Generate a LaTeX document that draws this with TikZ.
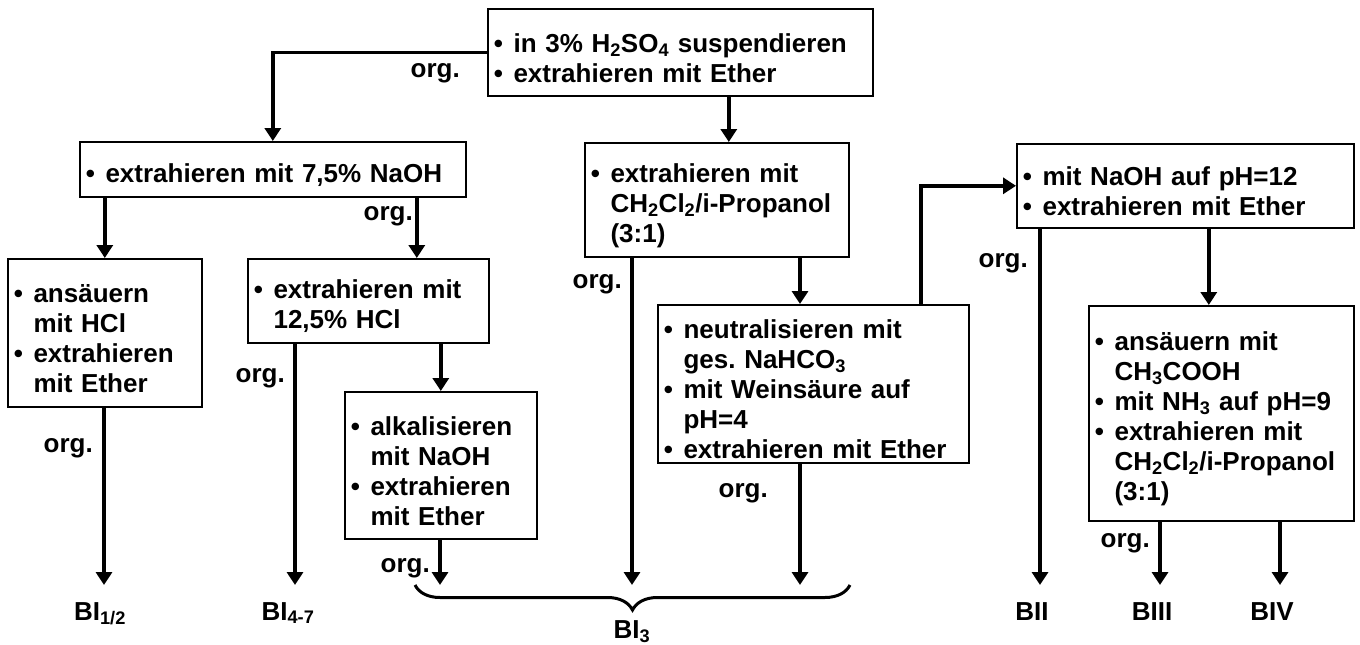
\documentclass[tikz,border=0pt]{standalone}
\usepackage{fontspec}
\setmainfont{Liberation Sans}
\usetikzlibrary{arrows.meta,decorations.pathreplacing}
\hyphenpenalty=10000
\exhyphenpenalty=10000
\frenchspacing
\newcommand{\itm}{\par\noindent\hangindent=0.76em\hangafter=1\makebox[0.76em][l]{\textbullet}}
\tikzset{
	box/.style={draw,line width=1.6pt,anchor=north west,inner xsep=6pt,inner ysep=0pt,align=left},
	arr/.style={line width=3.5pt,-{Triangle[length=13pt,width=16pt]}},
	lbl/.style={inner sep=0pt}
}
\begin{document}
\begin{tikzpicture}[x=1pt,y=-1pt,font=\fontsize{26}{30}\selectfont\bfseries]
	\useasboundingbox (0,0) rectangle (1360,645);
	\node[box,text width=373pt,minimum height=87pt] (top) at (487,8)
		{\itm in 3\% H\textsubscript{2}SO\textsubscript{4} suspendieren
		 \itm extrahieren mit Ether\par};
	\node[box,text width=374pt,minimum height=55pt] (naoh) at (79,141)
		{\itm extrahieren mit 7,5\% NaOH\par};
	\node[box,text width=182pt,minimum height=148pt] (ans) at (7,258)
		{\itm ansäuern\newline mit HCl
		 \itm extrahieren\newline mit Ether\par};
	\node[box,text width=229pt,minimum height=84pt] (hcl) at (247,258)
		{\itm extrahieren mit\newline 12,5\% HCl\par};
	\node[box,text width=180pt,minimum height=147pt] (alk) at (344,391)
		{\itm alkalisieren\newline mit NaOH
		 \itm extrahieren\newline mit Ether\par};
	\node[box,text width=252pt,minimum height=114pt] (mid) at (584,142)
		{\itm extrahieren mit\newline CH\textsubscript{2}Cl\textsubscript{2}/i-Propanol\newline (3:1)\par};
	\node[box,text width=299pt,minimum height=158pt] (neu) at (657,304)
		{\itm neutralisieren mit\newline ges. NaHCO\textsubscript{3}
		 \itm mit Weinsäure auf\newline pH=4
		 \itm extrahieren mit Ether\par};
	\node[box,text width=325pt,minimum height=84pt] (ph) at (1016,143)
		{\itm mit NaOH auf pH=12
		 \itm extrahieren mit Ether\par};
	\node[box,text width=253pt,minimum height=215pt] (acid) at (1088,305)
		{\itm ansäuern mit\newline CH\textsubscript{3}COOH
		 \itm mit NH\textsubscript{3} auf pH=9
		 \itm extrahieren mit\newline CH\textsubscript{2}Cl\textsubscript{2}/i-Propanol\newline (3:1)\par};

	\coordinate (e12) at (104,585);
	\coordinate (e47) at (295,585);
	\coordinate (e3a) at (440,585);
	\coordinate (e3b) at (632,585);
	\coordinate (e3c) at (800,585);
	\coordinate (eII) at (1040,585);
	\coordinate (eIII) at (1160,585);
	\coordinate (eIV) at (1280,585);
	\coordinate (brl) at (415,585);
	\coordinate (brr) at (850,585);

	\node[lbl,anchor=base] (b12) at (100,620) {BI\textsubscript{1/2}};
	\node[lbl,anchor=base] (b47) at (288,620) {BI\textsubscript{4-7}};
	\node[lbl,anchor=base] (b3) at (632,638) {BI\textsubscript{3}};
	\node[lbl,anchor=base] (bII) at (1032,620) {BII};
	\node[lbl,anchor=base] (bIII) at (1152,620) {BIII};
	\node[lbl,anchor=base] (bIV) at (1272,620) {BIV};

	\node[lbl,anchor=base east] (o1) at (460,77) {org.};
	\node[lbl,anchor=base east] (o2) at (413,220) {org.};
	\node[lbl,anchor=base east] (o3) at (93,452) {org.};
	\node[lbl,anchor=base east] (o4) at (285,382) {org.};
	\node[lbl,anchor=base east] (o5) at (430,572) {org.};
	\node[lbl,anchor=base east] (o6) at (622,288) {org.};
	\node[lbl,anchor=base east] (o7) at (768,497) {org.};
	\node[lbl,anchor=base east] (o8) at (1028,267) {org.};
	\node[lbl,anchor=base east] (o9) at (1150,547) {org.};

	\draw[arr] (top.west) -| (naoh.north);
	\draw[arr] ([xshift=12pt]mid.north |- top.south) -- ([xshift=12pt]mid.north);
	\draw[arr] (naoh.south -| ans.north) -- (ans.north);
	\draw[arr] ([xshift=48.5pt]hcl.north |- naoh.south) -- ([xshift=48.5pt]hcl.north);
	\draw[arr] (hcl.south -| alk.north) -- (alk.north);
	\draw[arr] (ans.south -| e12) -- (e12);
	\draw[arr] (hcl.south -| e47) -- (e47);
	\draw[arr] (alk.south -| e3a) -- (e3a);
	\draw[arr] (mid.south -| e3b) -- (e3b);
	\draw[arr] (mid.south -| e3c) -- (neu.north -| e3c);
	\draw[arr] (neu.south -| e3c) -- (e3c);
	\draw[arr] ([xshift=107.5pt]neu.north) |- (ph.west);
	\draw[arr] (ph.south -| eII) -- (eII);
	\draw[arr] ([xshift=-12.5pt]acid.north |- ph.south) -- ([xshift=-12.5pt]acid.north);
	\draw[arr] (acid.south -| eIII) -- (eIII);
	\draw[arr] (acid.south -| eIV) -- (eIV);
	\draw[line width=3pt,decorate,decoration={brace,mirror,amplitude=25pt}] (brl) -- (brr);
\end{tikzpicture}
\end{document}
